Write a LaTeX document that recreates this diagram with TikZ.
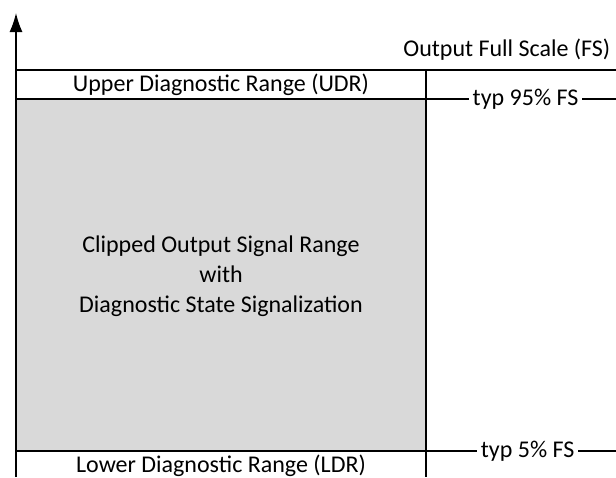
\documentclass[tikz,border=0pt]{standalone}
\usepackage{fontspec}
\setmainfont{Carlito}
\usetikzlibrary{arrows.meta}
\definecolor{clipgray}{RGB}{217,217,217}
\begin{document}
\begin{tikzpicture}[x=1pt, y=-1pt, line width=1.4pt,
    lbl/.style={font=\fontsize{24}{29}\selectfont, inner sep=1pt},
    fslabel/.style={lbl, fill=white, inner xsep=4pt, anchor=east}]
    \useasboundingbox (0,0) rectangle (616,477);

    % 1. Vùng tín hiệu bị cắt (màu xám)
    \fill[clipgray] (16,99) rectangle (426,451);

    % 2. Trục đứng
    \draw[-{Latex[length=19pt,width=13pt]}] (16,477) -- (16,13);

    % 3. Các đường ngang và đường đứng bên phải
    \draw (16,70) -- (616,70);
    \draw (16,99) -- (616,99);
    \draw (16,451) -- (616,451);
    \draw (426,70) -- (426,477);

    % 4. Nhãn
    \node[lbl, anchor=east] (fs) at (612,50) {Output Full Scale (FS)};
    \node[lbl] (udr) at (221,85) {Upper Diagnostic Range (UDR)};
    \node[lbl] (ldr) at (221,466) {Lower Diagnostic Range (LDR)};
    \node[lbl, align=center, font=\fontsize{24}{30}\selectfont] (clip) at (221,276)
        {Clipped Output Signal Range\\with\\Diagnostic State Signalization};

    % 5. Mốc 95% và 5%
    \node[fslabel] (up) at (583,99) {typ 95\% FS};
    \node[fslabel] (lo) at (579,451) {typ 5\% FS};
\end{tikzpicture}
\end{document}
